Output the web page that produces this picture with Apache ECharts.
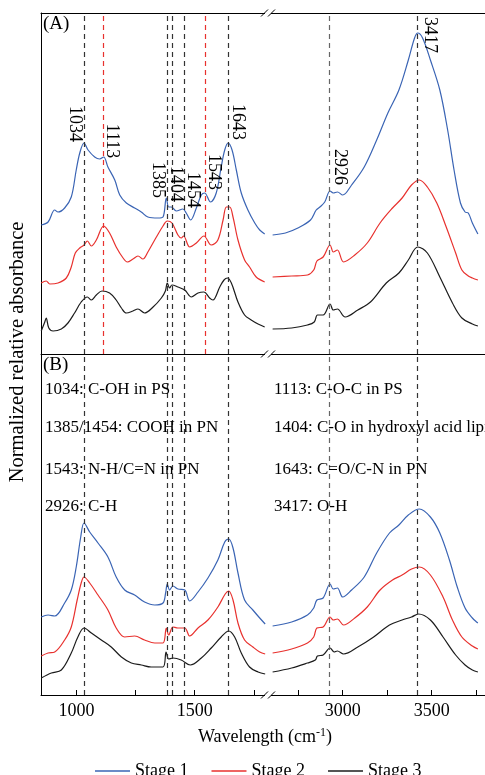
<!DOCTYPE html>
<html>
<head>
<meta charset="utf-8">
<script src="https://cdn.jsdelivr.net/npm/echarts@6/dist/echarts.min.js"></script>
<style>
  html, body { margin: 0; padding: 0; background: #fff; }
  #chart { width: 485px; height: 775px; }
</style>
</head>
<body>
<div id="chart"></div>
<script>
var stages = ["Stage 1", "Stage 2", "Stage 3"];
var stageColors = ["#3a64b4", "#e8312e", "#1c1c1c"];

// panel A, 850-1810 cm-1
var aLow1 = [[851,129],[880,132],[908,144],[922,142],[950,146],[978,157],[999,184],[1014,201],[1032,211],[1049,204],[1077,197],[1098,195],[1115,197],[1133,187],[1162,174],[1183,159],[1211,151],[1246,146],[1274,142],[1302,137],[1345,136],[1366,137],[1380,156],[1390,147],[1401,147],[1422,143],[1450,145],[1464,141],[1483,134],[1507,146],[1528,159],[1542,161],[1567,152],[1591,161],[1612,187],[1627,204],[1641,211],[1658,204],[1676,184],[1697,161],[1725,144],[1754,131],[1775,124],[1796,120]];
var aLow2 = [[851,71],[872,73],[887,70],[922,71],[957,76],[978,87],[995,101],[1014,106],[1032,109],[1046,113],[1063,108],[1084,114],[1115,128],[1140,121],[1168,107],[1197,96],[1215,92],[1239,95],[1260,98],[1281,95],[1302,102],[1338,117],[1366,128],[1384,133],[1404,131],[1429,119],[1443,116],[1453,118],[1479,107],[1507,111],[1539,118],[1570,109],[1598,114],[1620,134],[1634,147],[1648,147],[1662,137],[1683,114],[1711,94],[1732,87],[1760,77],[1796,72]];
var aLow3 = [[851,23],[866,32],[872,36],[883,26],[901,23],[936,25],[964,31],[992,41],[1020,52],[1046,57],[1063,54],[1084,59],[1108,63],[1140,61],[1168,54],[1190,46],[1211,41],[1239,43],[1260,45],[1288,41],[1324,47],[1359,56],[1376,63],[1384,71],[1394,66],[1404,69],[1429,67],[1458,64],[1486,57],[1514,61],[1539,62],[1563,56],[1577,54],[1606,67],[1624,74],[1638,76],[1655,71],[1683,52],[1711,39],[1739,34],[1768,30],[1796,27]];

// panel A, 2580-3800 cm-1
var aHigh1 = [[2606,119],[2678,121],[2748,126],[2819,134],[2851,144],[2872,147],[2899,152],[2929,163],[2947,161],[2970,162],[3000,159],[3050,169],[3121,187],[3191,214],[3254,241],[3316,264],[3369,294],[3404,316],[3422,321],[3449,316],[3493,294],[3546,264],[3590,224],[3626,184],[3662,151],[3688,142],[3706,141],[3729,131],[3760,120]];
var aHigh2 = [[2606,77],[2713,78],[2802,79],[2837,84],[2855,93],[2890,97],[2929,109],[2947,102],[2970,104],[3005,92],[3068,99],[3138,111],[3210,131],[3280,146],[3334,156],[3387,169],[3431,174],[3476,167],[3529,151],[3582,127],[3635,101],[3670,84],[3706,78],[3729,76],[3760,74]];
var aHigh3 = [[2606,25],[2713,26],[2802,29],[2840,32],[2858,39],[2890,39],[2929,50],[2947,44],[2970,45],[3014,37],[3085,44],[3156,52],[3245,71],[3316,81],[3369,94],[3422,107],[3476,101],[3546,77],[3617,51],[3670,36],[3729,30],[3760,28]];

// panel B, 850-1810 cm-1
var bLow1 = [[851,78],[880,80],[908,79],[950,92],[978,105],[999,128],[1018,158],[1032,172],[1056,163],[1091,152],[1133,138],[1168,118],[1204,105],[1246,100],[1288,93],[1331,90],[1366,92],[1377,102],[1384,111],[1394,105],[1408,109],[1429,106],[1458,105],[1479,94],[1514,103],[1556,117],[1598,135],[1627,153],[1644,156],[1662,147],[1683,122],[1711,95],[1746,85],[1775,77],[1798,71]];
var bLow2 = [[851,39],[880,42],[908,43],[950,55],[978,68],[1003,95],[1020,112],[1032,118],[1056,112],[1091,100],[1133,85],[1168,67],[1204,58],[1246,59],[1288,55],[1331,52],[1366,52],[1380,67],[1390,60],[1408,68],[1429,67],[1458,67],[1479,59],[1514,67],[1556,75],[1598,88],[1629,101],[1644,104],[1662,95],[1683,72],[1711,55],[1746,48],[1775,43],[1798,41]];
var bLow3 = [[851,17],[894,22],[936,25],[978,42],[1006,58],[1032,67],[1063,62],[1105,55],[1147,48],[1190,38],[1232,32],[1274,30],[1316,28],[1366,28],[1379,43],[1390,36],[1408,37],[1443,35],[1481,30],[1528,37],[1570,47],[1612,58],[1644,64],[1669,58],[1697,42],[1732,28],[1768,23],[1798,21]];

// panel B, 2580-3800 cm-1
var bHigh1 = [[2606,69],[2713,73],[2802,80],[2837,87],[2855,95],[2890,97],[2929,111],[2947,106],[2970,107],[3000,98],[3050,105],[3121,118],[3191,142],[3263,162],[3316,170],[3369,180],[3431,186],[3493,178],[3546,162],[3600,135],[3644,108],[3688,87],[3729,77],[3760,72]];
var bHigh2 = [[2606,42],[2713,46],[2802,52],[2837,58],[2855,67],[2890,68],[2929,78],[2947,75],[2970,76],[3005,70],[3068,77],[3138,88],[3210,105],[3280,115],[3334,120],[3387,126],[3431,128],[3493,120],[3564,98],[3617,75],[3670,58],[3729,49],[3760,46]];
var bHigh3 = [[2606,23],[2713,27],[2802,32],[2846,35],[2858,39],[2890,40],[2929,47],[2952,43],[2970,44],[3005,41],[3085,48],[3174,58],[3263,70],[3334,75],[3387,78],[3426,81],[3493,75],[3564,58],[3635,40],[3688,30],[3729,25],[3760,23]];

var peaksA = [1034, 1113, 1385, 1404, 1454, 1543, 1643, 2926, 3417];
var redPeaks = [1113, 1543];
var greyPeaks = [2926];
var peaksB = [1034, 1385, 1404, 1454, 1643, 2926, 3417];
// where each rotated peak label sits: height in panel units, sideways shift in px
var peakLabelHeight = [230, 213, 174, 170, 164, 182, 232, 187, 319];
var peakLabelShift = [-10, 9, -10, 4, 9, 9, 9, 10, 13];

var notesLeft = ["1034: C-OH in PS", "1385/1454: COOH in PN", "1543: N-H/C=N in PN", "2926: C-H"];
var notesRight = ["1113: C-O-C in PS", "1404: C-O in hydroxyl acid lipids", "1643: C=O/C-N in PN", "3417: O-H"];
var noteRowsY = [390, 428, 470, 507];

var lowTicks = [1000, 1250, 1500, 1750];
var lowLabels = [1000, 1500];
var highTicks = [2750, 3000, 3250, 3500, 3750];
var highLabels = [3000, 3500];

var FONT = "Liberation Serif";
var chart = echarts.init(document.getElementById("chart"), null, { renderer: "canvas" });

function lineColor(x) {
  if (redPeaks.indexOf(x) >= 0) return "#e8312e";
  if (greyPeaks.indexOf(x) >= 0) return "#666";
  return "#333";
}

function dashLines(list) {
  return {
    silent: true,
    symbol: ["none", "none"],
    label: { show: false },
    animation: false,
    data: list.map(function (x) {
      return { xAxis: x, lineStyle: { color: lineColor(x), type: [5, 4], width: 1.2 } };
    })
  };
}

function peakMarks(side) {
  var out = [];
  peaksA.forEach(function (p, i) {
    var isLow = p < 2000;
    if ((side === "low") !== isLow) return;
    // the label is turned a quarter clockwise, so a sideways move is along its local y
    out.push({
      coord: [p, peakLabelHeight[i]],
      value: String(p),
      label: { offset: [0, -peakLabelShift[i]] }
    });
  });
  return {
    symbol: "circle",
    symbolSize: 0,
    silent: true,
    animation: false,
    label: {
      show: true,
      position: "inside",
      rotate: -90,
      formatter: "{c}",
      color: "#000",
      fontFamily: FONT,
      fontSize: 18
    },
    data: out
  };
}

var panelData = [
  [aLow1, aLow2, aLow3], [aHigh1, aHigh2, aHigh3],
  [bLow1, bLow2, bLow3], [bHigh1, bHigh2, bHigh3]
];
// x axis used by the series in each grid
var seriesXAxis = [0, 2, 4, 5];

var series = [];
panelData.forEach(function (sets, g) {
  sets.forEach(function (data, i) {
    var s = {
      type: "line",
      name: stages[i],
      xAxisIndex: seriesXAxis[g],
      yAxisIndex: g,
      data: data,
      showSymbol: false,
      smooth: 0.35,
      animation: false,
      lineStyle: { width: 1.2, color: stageColors[i] },
      itemStyle: { color: stageColors[i] }
    };
    if (i === 2) {
      var isA = g < 2;
      var low = g % 2 === 0;
      var list = (isA ? peaksA : peaksB).filter(function (p) { return low ? p < 2000 : p > 2000; });
      s.markLine = dashLines(list);
    }
    if (i === 0 && g < 2) {
      s.markPoint = peakMarks(g === 0 ? "low" : "high");
    }
    series.push(s);
  });
});

var grids = [
  { left: 41, top: 13, width: 227, height: 341 },
  { left: 268, top: 13, width: 229.5, height: 341 },
  { left: 41, top: 354, width: 227, height: 341 },
  { left: 268, top: 354, width: 229.5, height: 341 }
];

function plainX(grid, pos, lo, hi) {
  return {
    gridIndex: grid, type: "value", position: pos, min: lo, max: hi,
    axisLine: { show: true, onZero: false, lineStyle: { color: "#000", width: 1 } },
    axisTick: { show: false }, axisLabel: { show: false }, splitLine: { show: false }
  };
}

function tickedX(grid, lo, hi, ticks, labels) {
  var ax = plainX(grid, "bottom", lo, hi);
  ax.axisTick = { show: true, inside: true, length: 5, customValues: ticks, lineStyle: { color: "#000" } };
  ax.axisLabel = {
    show: true, customValues: labels, color: "#000", fontFamily: FONT, fontSize: 18, margin: 7,
    formatter: function (v) { return String(v); }
  };
  return ax;
}

var xAxes = [
  plainX(0, "bottom", 850, 1810),
  plainX(0, "top", 850, 1810),
  plainX(1, "bottom", 2580, 3800),
  plainX(1, "top", 2580, 3800),
  tickedX(2, 850, 1810, lowTicks, lowLabels),
  tickedX(3, 2580, 3800, highTicks, highLabels)
];

function yAx(grid, showLine) {
  return {
    gridIndex: grid, type: "value", min: 0, max: 341,
    axisLine: { show: showLine, lineStyle: { color: "#000", width: 1 } },
    axisTick: { show: false }, axisLabel: { show: false }, splitLine: { show: false }
  };
}

var graphics = [];
[13, 354, 695].forEach(function (y) {
  graphics.push({ type: "rect", shape: { x: 265, y: y - 1.5, width: 6, height: 3 }, style: { fill: "#fff" }, z: 100 });
  graphics.push({ type: "line", shape: { x1: 261, y1: y + 3.5, x2: 268, y2: y - 3.5 }, style: { stroke: "#000", lineWidth: 1 }, z: 101 });
  graphics.push({ type: "line", shape: { x1: 268, y1: y + 3.5, x2: 275, y2: y - 3.5 }, style: { stroke: "#000", lineWidth: 1 }, z: 101 });
});
graphics.push({ type: "text", left: 43, top: 15, style: { text: "(A)", font: "19px " + FONT, fill: "#000" }, z: 50 });
graphics.push({ type: "text", left: 43, top: 356, style: { text: "(B)", font: "19px " + FONT, fill: "#000" }, z: 50 });
noteRowsY.forEach(function (y, i) {
  graphics.push({ type: "text", x: 45, y: y, style: { text: notesLeft[i], font: "17px " + FONT, fill: "#000", verticalAlign: "middle" }, z: 50 });
  graphics.push({ type: "text", x: 274, y: y, style: { text: notesRight[i], font: "17px " + FONT, fill: "#000", verticalAlign: "middle" }, z: 50 });
});
graphics.push({
  type: "text", x: 18, y: 352, rotation: Math.PI / 2,
  style: { text: "Normalized relative absorbance", font: "20.5px " + FONT, fill: "#000", align: "center", verticalAlign: "middle" }
});
graphics.push({
  type: "text", x: 265, y: 737,
  style: {
    text: "{a|Wavelength (cm}{s|-1}{a|)}",
    align: "center", verticalAlign: "middle",
    rich: {
      a: { fontFamily: FONT, fontSize: 18, fill: "#000" },
      s: { fontFamily: FONT, fontSize: 12, fill: "#000", padding: [0, 0, 9, 0] }
    }
  }
});

chart.setOption({
  backgroundColor: "#fff",
  animation: false,
  grid: grids,
  xAxis: xAxes,
  yAxis: [yAx(0, true), yAx(1, false), yAx(2, true), yAx(3, false)],
  legend: {
    data: stages,
    left: 90,
    top: 757,
    icon: "rect",
    itemWidth: 35,
    itemHeight: 1.5,
    itemGap: 23,
    textStyle: { fontFamily: FONT, fontSize: 18, color: "#000" }
  },
  graphic: graphics,
  series: series
});
</script>
</body>
</html>
